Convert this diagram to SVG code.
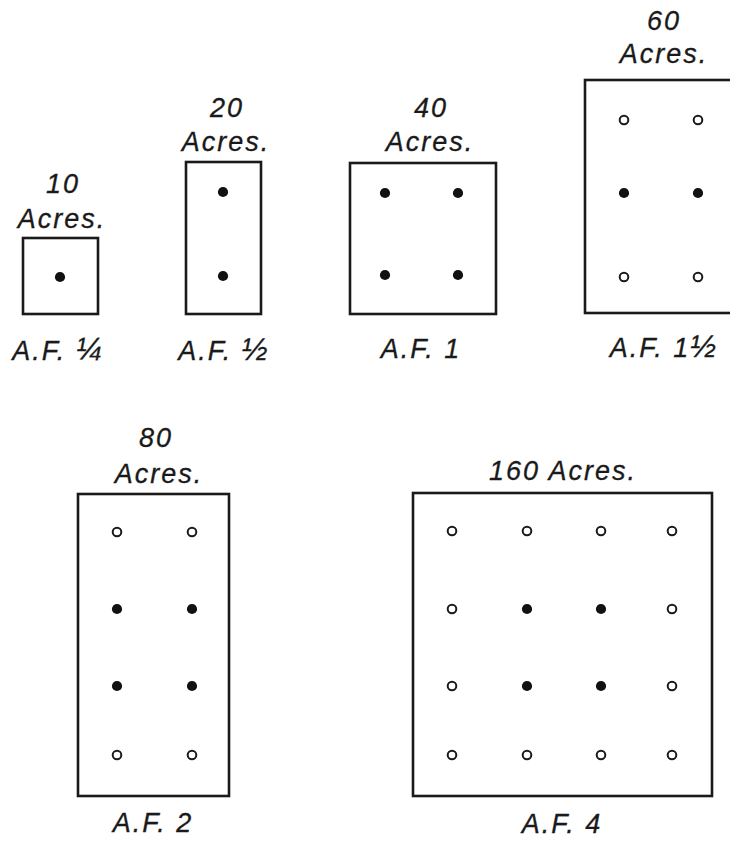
<svg xmlns="http://www.w3.org/2000/svg" width="730" height="842" viewBox="0 0 730 842">
<style>
  .bg { fill: #ffffff; }
  .plot { fill: none; stroke: #1a1a1a; stroke-width: 2.6; }
  .lbl { font-family: "Liberation Sans", Arial, sans-serif; font-style: italic; font-size: 27px; letter-spacing: 2px; fill: #1a1a1a; text-anchor: middle; stroke: #1a1a1a; stroke-width: 0.3; }
  .frac { font-size: 31px; }
  .well { fill: #111111; }
  .dry { fill: #ffffff; stroke: #1a1a1a; stroke-width: 2; }
</style>
<defs>
  <circle id="w" r="5.1" class="well"/>
  <circle id="d" r="4.3" class="dry"/>
</defs>
<rect class="bg" x="0" y="0" width="730" height="842"/>

<g id="plot-10">
  <text class="lbl" x="63" y="193">10</text>
  <text class="lbl" x="62" y="228">Acres.</text>
  <rect class="plot" x="23" y="238" width="75" height="76"/>
  <use href="#w" x="60" y="277"/>
  <text class="lbl" x="58" y="360">A.F. <tspan class="frac">¼</tspan></text>
</g>

<g id="plot-20">
  <text class="lbl" x="227" y="117">20</text>
  <text class="lbl" x="226" y="151">Acres.</text>
  <rect class="plot" x="186" y="162" width="75" height="152"/>
  <use href="#w" x="223" y="192"/>
  <use href="#w" x="223" y="276"/>
  <text class="lbl" x="224" y="360">A.F. <tspan class="frac">½</tspan></text>
</g>

<g id="plot-40">
  <text class="lbl" x="431" y="117">40</text>
  <text class="lbl" x="430" y="151">Acres.</text>
  <rect class="plot" x="350" y="163" width="146" height="151"/>
  <use href="#w" x="385" y="193"/>
  <use href="#w" x="458" y="193"/>
  <use href="#w" x="385" y="275"/>
  <use href="#w" x="458" y="275"/>
  <text class="lbl" x="421" y="358">A.F. 1</text>
</g>

<g id="plot-60">
  <text class="lbl" x="664" y="30">60</text>
  <text class="lbl" x="664" y="63">Acres.</text>
  <rect class="plot" x="585" y="80" width="170" height="233"/>
  <use href="#d" x="624" y="120"/>
  <use href="#d" x="698" y="120"/>
  <use href="#w" x="624" y="193"/>
  <use href="#w" x="698" y="193"/>
  <use href="#d" x="624" y="277"/>
  <use href="#d" x="698" y="277"/>
  <text class="lbl" x="664" y="357">A.F. 1<tspan class="frac">½</tspan></text>
</g>

<g id="plot-80">
  <text class="lbl" x="156" y="447">80</text>
  <text class="lbl" x="159" y="483">Acres.</text>
  <rect class="plot" x="78" y="494" width="151" height="302"/>
  <use href="#d" x="117" y="532"/>
  <use href="#d" x="192" y="532"/>
  <use href="#w" x="117" y="609"/>
  <use href="#w" x="192" y="609"/>
  <use href="#w" x="117" y="686"/>
  <use href="#w" x="192" y="686"/>
  <use href="#d" x="117" y="755"/>
  <use href="#d" x="192" y="755"/>
  <text class="lbl" x="153" y="832">A.F. 2</text>
</g>

<g id="plot-160">
  <text class="lbl" x="563" y="480">160 Acres.</text>
  <rect class="plot" x="413" y="493" width="299" height="303"/>
  <use href="#d" x="452" y="531"/>
  <use href="#d" x="527" y="531"/>
  <use href="#d" x="601" y="531"/>
  <use href="#d" x="672" y="531"/>
  <use href="#d" x="452" y="609"/>
  <use href="#w" x="527" y="609"/>
  <use href="#w" x="601" y="609"/>
  <use href="#d" x="672" y="609"/>
  <use href="#d" x="452" y="686"/>
  <use href="#w" x="527" y="686"/>
  <use href="#w" x="601" y="686"/>
  <use href="#d" x="672" y="686"/>
  <use href="#d" x="452" y="755"/>
  <use href="#d" x="527" y="755"/>
  <use href="#d" x="601" y="755"/>
  <use href="#d" x="672" y="755"/>
  <text class="lbl" x="562" y="833">A.F. 4</text>
</g>

<g id="connectors"></g>
</svg>
